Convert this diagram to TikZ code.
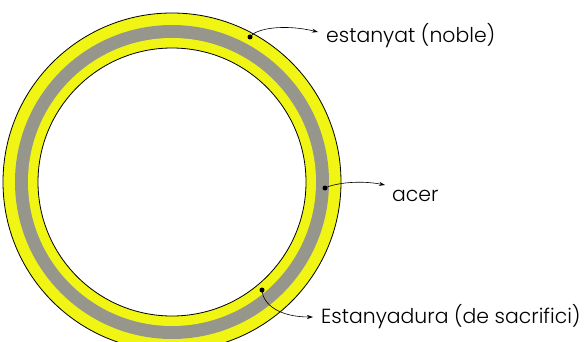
\documentclass[tikz,border=0pt]{standalone}
\usepackage{fontspec}
\setmainfont{Poppins}[UprightFont={* Light}]
\usetikzlibrary{arrows.meta}
\definecolor{ringyellow}{RGB}{240,245,20}
\definecolor{ringgray}{RGB}{150,150,140}
\tikzset{
  label text/.style={anchor=west, inner sep=0pt, font=\fontsize{20.4}{23}\selectfont},
  pin dot/.style={circle, fill=black, inner sep=0pt, minimum size=5pt},
  pointer/.style={-{Stealth[length=6pt,width=4pt]}, line width=0.6pt}
}
\begin{document}
\begin{tikzpicture}[x=1pt,y=-1pt]
\useasboundingbox (0,0) rectangle (588,342);
\begin{scope}
\clip (0,0) rectangle (588,342);
\fill[ringyellow, draw=black, line width=0.8pt] (172,182) circle[radius=169pt];
\fill[ringgray] (172,182) circle[radius=157pt];
\fill[ringyellow] (172,182) circle[radius=144pt];
\fill[white, draw=black, line width=0.8pt] (172,182) circle[radius=134pt];
\end{scope}
% dots
\node[pin dot] (d1) at (250,37) {};
\node[pin dot] (d2) at (325,188) {};
\node[pin dot] (d3) at (262,290) {};
% labels
\node[label text] (t1) at (326,36) {estanyat (noble)};
\node[label text] (t2) at (392,196) {acer};
\node[label text] (t3) at (321,317) {Estanyadura (de sacrifici)};
% pointers
\draw[pointer] (d1.center) .. controls (256,28) and (285,24) .. ([xshift=-8pt,yshift=4pt]t1.west);
\draw[pointer] (d2.center) .. controls (335,183) and (360,180) .. ([xshift=-7pt,yshift=11pt]t2.west);
\draw[pointer] (d3.center) .. controls (263,305) and (280,317) .. ([xshift=-8pt]t3.west);
\end{tikzpicture}
\end{document}
